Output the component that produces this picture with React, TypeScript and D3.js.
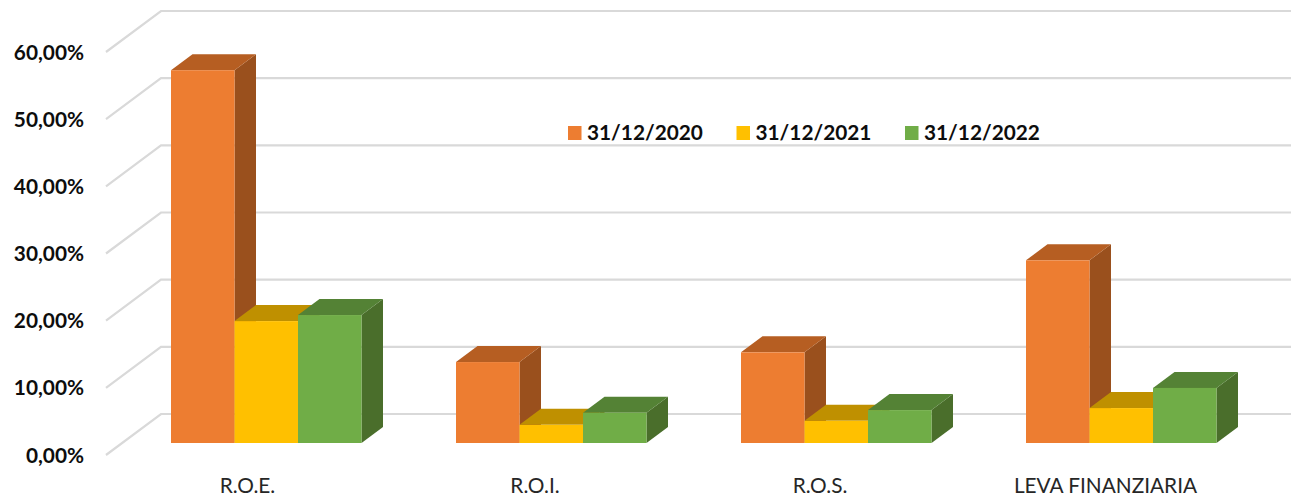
import React from "react";
import * as d3 from "d3";

const categories = ["R.O.E.", "R.O.I.", "R.O.S.", "LEVA FINANZIARIA"];
const seriesNames = ["31/12/2020", "31/12/2021", "31/12/2022"];
const values2020 = [55.5, 12.05, 13.5, 27.2];
const values2021 = [18.15, 2.7, 3.3, 5.2];
const values2022 = [19.05, 4.5, 4.9, 8.2];
const ticks = [0, 10, 20, 30, 40, 50, 60];
const tickLabels = ["0,00%", "10,00%", "20,00%", "30,00%", "40,00%", "50,00%", "60,00%"];

const seriesValues = [values2020, values2021, values2022];
const frontColors = ["#ED7D31", "#FFC000", "#70AD47"];
const topColors = ["#B65E22", "#BF9000", "#548235"];
const sideColors = ["#9A501D", "#A37B00", "#4A6E2B"];
const legendX = [568, 736.5, 905];
const labelOffset = [-18.5, -16, -16, -15.5];

const W = 1291;
const H = 496;
const FONT = "Lato, 'Open Sans', sans-serif";

const y = d3.scaleLinear().domain([0, 60]).range([443, 40]);
const x0 = d3.scaleBand<string>().domain(categories).range([123.5, 1263.5]).padding(0);
const x1 = d3.scaleBand<string>().domain(seriesNames).range([47.5, 238]).padding(0);

const barDx = 21.5;
const barDy = 16;
const wallDx = 55;
const backOffset = 29;
const wallDrop = 41;
const wallLeft = 106;

const poly = (pts: [number, number][]) => pts.map((p) => p.join(",")).join(" ");

export default function App() {
  return (
    <svg
      width={W}
      height={H}
      viewBox={`0 0 ${W} ${H}`}
      style={{ position: "absolute", left: 0, top: 0, display: "block", background: "#fff" }}
    >
      {ticks.map((t, i) => {
        const by = y(t) - backOffset;
        return (
          <g key={t}>
            <polyline
              points={poly([
                [wallLeft, by + wallDrop],
                [wallLeft + wallDx, by],
                [W, by],
              ])}
              fill="none"
              stroke="#D9D9D9"
              strokeWidth={2.2}
            />
            <text
              x={84}
              y={y(t) + 19.5}
              textAnchor="end"
              fontFamily={FONT}
              fontWeight={700}
              fontSize={20.8}
              fill="#0d0d0d"
            >
              {tickLabels[i]}
            </text>
          </g>
        );
      })}

      {categories.map((c, ci) => {
        const gx = x0(c) as number;
        return (
          <g key={c}>
            {seriesNames.map((s, si) => {
              const v = seriesValues[si][ci];
              const l = gx + (x1(s) as number);
              const w = x1.bandwidth();
              const r = l + w;
              const t = y(v);
              const b = y(0);
              return (
                <g key={s}>
                  <polygon
                    points={poly([
                      [r, t],
                      [r + barDx, t - barDy],
                      [r + barDx, b - barDy],
                      [r, b],
                    ])}
                    fill={sideColors[si]}
                  />
                  <polygon
                    points={poly([
                      [l, t],
                      [l + barDx, t - barDy],
                      [r + barDx, t - barDy],
                      [r, t],
                    ])}
                    fill={topColors[si]}
                  />
                  <rect x={l} y={t} width={w} height={b - t} fill={frontColors[si]} />
                </g>
              );
            })}
            <text
              x={gx + x0.bandwidth() / 2 + labelOffset[ci]}
              y={493}
              textAnchor="middle"
              fontFamily={FONT}
              fontSize={20.8}
              fill="#262626"
            >
              {c}
            </text>
          </g>
        );
      })}

      {seriesNames.map((s, i) => (
        <g key={s}>
          <rect x={legendX[i]} y={126} width={13.5} height={14} fill={frontColors[i]} />
          <text
            x={legendX[i] + 19}
            y={140}
            fontFamily={FONT}
            fontWeight={700}
            fontSize={20.8}
            fill="#0d0d0d"
          >
            {s}
          </text>
        </g>
      ))}
    </svg>
  );
}
